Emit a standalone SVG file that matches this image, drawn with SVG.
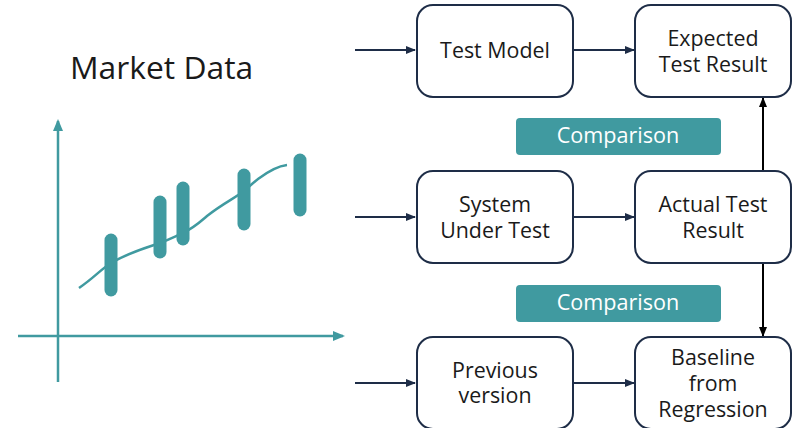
<svg xmlns="http://www.w3.org/2000/svg" width="794" height="428" viewBox="0 0 794 428">
<defs>
<style>
.box{fill:#fff;stroke:#1e2d47;stroke-width:2}
.t{font-family:"Open Sans","Noto Sans",sans-serif;font-size:21.4px;fill:#1a1a1a;text-anchor:middle}
.lbl{fill:#409aa0}
.lt{font-family:"Open Sans","Noto Sans",sans-serif;font-size:21.6px;fill:#fff;text-anchor:middle}
.c{stroke:#1e2d47;stroke-width:2;fill:none}
.v{stroke:#000;stroke-width:2;fill:none}
.ax{stroke:#409aa0;stroke-width:2.5;fill:none}
.bar{stroke:#409aa0;stroke-width:13;stroke-linecap:round}
</style>
<marker id="ah" markerWidth="10" markerHeight="8" refX="9" refY="4" orient="auto" markerUnits="userSpaceOnUse"><path d="M0,0 L10,4 L0,8 z" fill="#1e2d47"/></marker>
<marker id="ahb" markerWidth="10" markerHeight="8" refX="9" refY="4" orient="auto" markerUnits="userSpaceOnUse"><path d="M0,0 L10,4 L0,8 z" fill="#000"/></marker>
<marker id="aht" markerWidth="12" markerHeight="10" refX="10" refY="5" orient="auto" markerUnits="userSpaceOnUse"><path d="M0,0 L12,5 L0,10 z" fill="#409aa0"/></marker>
</defs>
<g id="chart">
<text x="70" y="79" font-family="'Open Sans','Noto Sans',sans-serif" font-size="31.8" fill="#1a1a1a">Market Data</text>
<line class="ax" x1="58" y1="382" x2="58" y2="121" marker-end="url(#aht)"/>
<line class="ax" x1="18" y1="336" x2="343" y2="336" marker-end="url(#aht)"/>
<path class="ax" stroke-width="2" d="M79,288 C95,277 100,270 111,263 C130,252 145,248 160,243 C170,239 176,236 183,233 C195,227 200,222 207,216 C222,204 235,198 244,191 C252,184 254,182 258,179 C270,170 278,166 287,165"/>
<line class="bar" x1="111" y1="240" x2="111" y2="290"/>
<line class="bar" x1="160" y1="202" x2="160" y2="252"/>
<line class="bar" x1="183" y1="188" x2="183" y2="239"/>
<line class="bar" x1="244" y1="175" x2="244" y2="224"/>
<line class="bar" x1="300" y1="160" x2="300" y2="210"/>
</g>
<g id="connectors">
<line class="c" x1="355" y1="50" x2="415" y2="50" marker-end="url(#ah)"/>
<line class="c" x1="574" y1="50" x2="634" y2="50" marker-end="url(#ah)"/>
<line class="c" x1="355" y1="217" x2="415" y2="217" marker-end="url(#ah)"/>
<line class="c" x1="574" y1="217" x2="634" y2="217" marker-end="url(#ah)"/>
<line class="c" x1="355" y1="383" x2="415" y2="383" marker-end="url(#ah)"/>
<line class="c" x1="574" y1="383" x2="634" y2="383" marker-end="url(#ah)"/>
<line class="v" x1="763" y1="171" x2="763" y2="98" marker-end="url(#ahb)"/>
<line class="v" x1="763" y1="263" x2="763" y2="336" marker-end="url(#ahb)"/>
</g>
<g id="test-model"><rect class="box" x="417" y="5" width="156" height="92" rx="16"/><text class="t" x="495" y="58">Test Model</text></g>
<g id="expected"><rect class="box" x="635" y="5" width="156" height="92" rx="16"/><text class="t" x="713" y="46">Expected</text><text class="t" x="713" y="72">Test Result</text></g>
<g id="comparison-1"><rect class="lbl" x="516" y="118" width="205" height="37" rx="4"/><text class="lt" x="618" y="143">Comparison</text></g>
<g id="sut"><rect class="box" x="417" y="171" width="156" height="92" rx="16"/><text class="t" x="495" y="212">System</text><text class="t" x="495" y="238">Under Test</text></g>
<g id="actual"><rect class="box" x="635" y="171" width="156" height="92" rx="16"/><text class="t" x="713" y="212">Actual Test</text><text class="t" x="713" y="238">Result</text></g>
<g id="comparison-2"><rect class="lbl" x="516" y="285" width="205" height="37" rx="4"/><text class="lt" x="618" y="310">Comparison</text></g>
<g id="previous"><rect class="box" x="417" y="337" width="156" height="92" rx="16"/><text class="t" x="495" y="378">Previous</text><text class="t" x="495" y="403">version</text></g>
<g id="baseline"><rect class="box" x="635" y="337" width="156" height="92" rx="16"/><text class="t" x="713" y="365">Baseline</text><text class="t" x="713" y="391">from</text><text class="t" x="713" y="417">Regression</text></g>
</svg>
